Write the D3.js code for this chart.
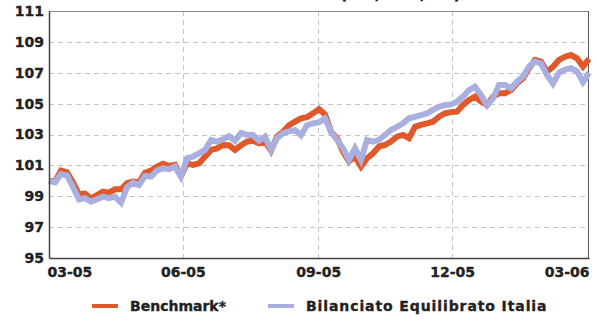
<!DOCTYPE html>
<html>
<head>
<meta charset="utf-8">
<script src="https://cdn.jsdelivr.net/npm/d3@7"></script>
<style>
  html, body { margin: 0; padding: 0; background: #fff; }
  svg { display: block; font-family: "DejaVu Sans", Verdana, sans-serif; }
  svg text { font-family: "DejaVu Sans", Verdana, sans-serif; font-weight: bold; fill: #222; stroke: #222; stroke-width: 0.35px; }
</style>
</head>
<body>
<svg id="chart" width="597" height="321"></svg>
<script>
// Index levels (base 100), sampled roughly every four days from March 2005 to March 2006
const benchmark = [
  100.0, 99.95, 100.66, 100.55, 99.9, 99.13, 99.17, 98.85, 99.08, 99.3,
  99.23, 99.45, 99.45, 99.84, 99.95, 99.9, 100.53, 100.66, 100.92, 101.1,
  100.96, 101.03, 100.32, 101.13, 101.03, 101.13, 101.56, 102.0, 102.1, 102.32,
  102.3, 102.0, 102.3, 102.54, 102.6, 102.43, 102.54, 101.95, 102.86, 103.18,
  103.6, 103.83, 104.05, 104.12, 104.37, 104.65, 104.3, 103.18, 102.76, 101.9,
  101.26, 101.56, 100.92, 101.46, 101.78, 102.22, 102.32, 102.54, 102.86, 102.97,
  102.76, 103.5, 103.62, 103.72, 103.83, 104.15, 104.37, 104.45, 104.48, 104.91,
  105.24, 105.45, 105.13, 104.91, 105.45, 105.67, 105.67, 105.88, 106.32, 106.64,
  107.29, 107.83, 107.72, 107.07, 107.39, 107.83, 108.04, 108.15, 107.94, 107.4,
  107.9
];
const fund = [
  100.0, 99.9, 100.44, 100.35, 99.6, 98.8, 98.87, 98.65, 98.8, 98.97,
  98.87, 98.97, 98.58, 99.58, 99.88, 99.73, 100.32, 100.27, 100.66, 100.81,
  100.75, 100.92, 100.27, 101.46, 101.56, 101.78, 102.0, 102.65, 102.54, 102.69,
  102.9, 102.6, 103.1, 102.97, 102.97, 102.6, 102.86, 102.0, 102.76, 103.08,
  103.2, 103.29, 102.95, 103.6, 103.72, 103.8, 104.05, 103.18, 102.65, 102.11,
  101.35, 102.1, 101.35, 102.65, 102.54, 102.65, 102.97, 103.29, 103.5, 103.72,
  104.05, 104.15, 104.26, 104.37, 104.59, 104.8, 104.91, 104.95, 105.13, 105.45,
  105.88, 106.1, 105.56, 104.9, 105.34, 106.2, 106.2, 106.0, 106.42, 106.75,
  107.39, 107.72, 107.6, 106.86, 106.3, 107.0, 107.2, 107.29, 107.1, 106.4,
  107.0
];

const seriesNames = ["Benchmark*", "Bilanciato Equilibrato Italia"];
const seriesColors = ["#e0592b", "#a9b0df"];

const yTicks = [95, 97, 99, 101, 103, 105, 107, 109, 111];
const xTickDates = [new Date(2005, 2, 2), new Date(2005, 5, 1), new Date(2005, 8, 1), new Date(2005, 11, 1), new Date(2006, 2, 4)];
const xTickLabels = ["03-05", "06-05", "09-05", "12-05", "03-06"];
const gridDates = [new Date(2005, 5, 1), new Date(2005, 8, 1), new Date(2005, 11, 1)];

const titleText = "Andamento a 12 mesi (eur, 100, 12)";

const startDate = new Date(2005, 2, 2);
const endDate = new Date(2006, 2, 4);
const stepMs = (endDate - startDate) / (benchmark.length - 1);
const dates = benchmark.map((_, i) => new Date(+startDate + i * stepMs));

const W = 597, H = 321;
const margin = { top: 11, right: 8, bottom: 63, left: 49 };
const FONT = '"DejaVu Sans", Verdana, sans-serif';
const svg = d3.select("#chart");

const x = d3.scaleTime().domain([startDate, endDate]).range([margin.left, W - margin.right]);
const y = d3.scaleLinear().domain([95, 111]).range([H - margin.bottom, margin.top]);

// title, running off the top edge
svg.append("text")
  .attr("x", 461).attr("y", -1)
  .attr("text-anchor", "end")
  .style("font-size", "16px")
  .text(titleText);

// dashed grid
const grid = svg.append("g").attr("stroke", "#c4c4c4").attr("stroke-dasharray", "5,4").attr("stroke-width", 1);
grid.selectAll("line.h").data(yTicks.filter(v => v > 95 && v < 111)).join("line")
  .attr("x1", margin.left).attr("x2", W - margin.right)
  .attr("y1", d => Math.round(y(d)) + 0.5).attr("y2", d => Math.round(y(d)) + 0.5);
grid.selectAll("line.v").data(gridDates).join("line")
  .attr("x1", d => Math.round(x(d)) + 0.5).attr("x2", d => Math.round(x(d)) + 0.5)
  .attr("y1", margin.top).attr("y2", H - margin.bottom);

// plot frame: top and right
svg.append("line").attr("x1", margin.left).attr("x2", W - margin.right)
  .attr("y1", margin.top + 0.5).attr("y2", margin.top + 0.5).attr("stroke", "#8a8a8a");
svg.append("line").attr("x1", W - margin.right - 0.5).attr("x2", W - margin.right - 0.5)
  .attr("y1", margin.top).attr("y2", H - margin.bottom).attr("stroke", "#555");

// series
const line = d3.line().x((d, i) => x(dates[i])).y(d => y(d)).curve(d3.curveLinear);
[benchmark, fund].forEach((vals, k) => {
  svg.append("path").datum(vals)
    .attr("fill", "none").attr("stroke", seriesColors[k])
    .attr("stroke-width", 6).attr("stroke-linejoin", "miter").attr("stroke-miterlimit", 3)
    .attr("d", line);
});

// y axis
const yAxis = svg.append("g")
  .attr("transform", `translate(${margin.left},0)`)
  .call(d3.axisLeft(y).tickValues(yTicks).tickSize(0).tickPadding(5).tickFormat(d3.format("d")));
yAxis.attr("font-family", FONT);
yAxis.select(".domain").attr("stroke", "#444").attr("stroke-width", 1.5);
yAxis.selectAll("text").style("font-size", "14px");

// x axis
const xAxis = svg.append("g")
  .attr("transform", `translate(0,${H - margin.bottom})`)
  .call(d3.axisBottom(x).tickValues(xTickDates).tickSize(0).tickPadding(9)
    .tickFormat((d, i) => xTickLabels[i]));
xAxis.attr("font-family", FONT);
xAxis.select(".domain").attr("stroke", "#444").attr("stroke-width", 1.5);
xAxis.selectAll("text").style("font-size", "14px");
xAxis.selectAll(".tick").filter((d, i) => i === 0).select("text").attr("text-anchor", "start").attr("dx", -2);
xAxis.selectAll(".tick").filter((d, i) => i === xTickDates.length - 1).select("text").attr("text-anchor", "end");

// legend
const legendX = [92, 268];
const legendSpacing = [0, 0.9];
const legend = svg.append("g");
seriesNames.forEach((name, k) => {
  legend.append("line")
    .attr("x1", legendX[k]).attr("x2", legendX[k] + 26)
    .attr("y1", 306).attr("y2", 306)
    .attr("stroke", seriesColors[k]).attr("stroke-width", 4);
  legend.append("text")
    .attr("x", legendX[k] + 38).attr("y", 311)
    .style("font-size", "14px")
    .attr("letter-spacing", legendSpacing[k])
    .text(name);
});
</script>
</body>
</html>
